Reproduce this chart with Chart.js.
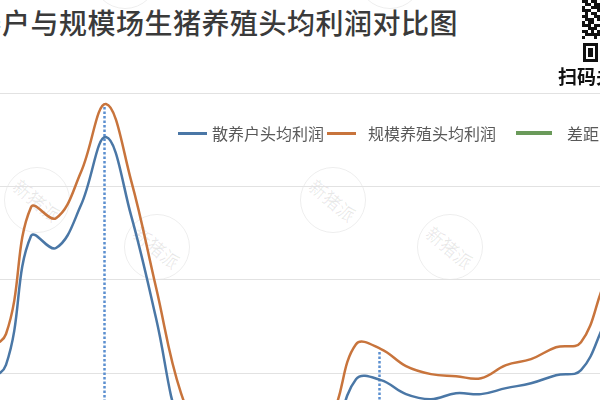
<!DOCTYPE html>
<html lang="zh-CN">
<head>
<meta charset="utf-8">
<script src="https://cdn.jsdelivr.net/npm/chart.js@4.4.1/dist/chart.umd.min.js"></script>
<style>
  html, body { margin: 0; padding: 0; }
  body {
    width: 600px; height: 400px; overflow: hidden; position: relative;
    background: #fff; font-family: "Noto Sans CJK SC", "Noto Sans", sans-serif;
  }
  #titulo {
    position: absolute; left: -55px; top: 7px; white-space: nowrap;
    font-size: 28px; line-height: 30px; letter-spacing: 0.5px;
    color: #3a3a3a; font-weight: 500;
  }
  #grafico-box { position: absolute; left: -19px; top: 93px; width: 650px; height: 467px; }
  #legenda {
    position: absolute; top: 123px; left: 178px; display: flex; align-items: center;
    white-space: nowrap; font-size: 16px; line-height: 20px; color: #595959;
  }
  #legenda .item { display: flex; align-items: center; }
  #legenda .amostra { display: inline-block; width: 29px; height: 3px; margin-right: 5px; }
  #legenda .item:nth-child(2) { margin-left: 3px; }
  #legenda .item:nth-child(2) .amostra { margin-right: 12px; }
  #legenda .item:nth-child(3) { margin-left: 20px; }
  #legenda .item:nth-child(3) .amostra { width: 36px; height: 4px; margin-right: 15px; }
  #qr { position: absolute; left: 574px; top: 0; }
  #scan {
    position: absolute; left: 558px; top: 66px; white-space: nowrap;
    font-size: 19px; line-height: 20px; font-weight: bold; color: #111;
  }
  .marca {
    position: absolute; width: 64px; height: 64px; margin: -33px 0 0 -33px;
    border: 1.5px solid rgba(0,0,0,0.07); border-radius: 50%;
    display: flex; align-items: center; justify-content: center;
  }
  .marca span {
    transform: rotate(40deg); font-size: 18px; color: rgba(0,0,0,0.09); white-space: nowrap;
  }
</style>
</head>
<body>
<div id="titulo">散养户与规模场生猪养殖头均利润对比图</div>
<canvas id="qr" width="26" height="64"></canvas>
<div id="scan">扫码关注</div>
<div id="marcas"></div>
<div id="grafico-box"><canvas id="grafico"></canvas></div>
<div id="legenda"></div>

<script>
  // meses (os rótulos do eixo x ficam fora do recorte)
  const meses = [
    '2020-08', '2020-09', '2020-10', '2020-11', '2020-12', '2021-01', '2021-02',
    '2021-03', '2021-04', '2021-05', '2021-06', '2021-07', '2021-08', '2021-09',
    '2021-10', '2021-11', '2021-12', '2022-01', '2022-02', '2022-03', '2022-04',
    '2022-05', '2022-06', '2022-07', '2022-08', '2022-09', '2022-10'
  ];
  const nomesSeries = ['散养户头均利润', '规模养殖头均利润', '差距'];
  const lucroSanyang = [
    -55, 45, 734, 670, 900, 1264, 846, 295, -316, -520, -600, -627, -600, -530,
    -386, -32, -37, -112, -139, -107, -112, -80, -54, -11, 16, 279, 498
  ];
  const lucroGuimo = [
    118, 210, 889, 830, 1077, 1441, 1034, 460, -107, -359, -439, -466, -439, -359,
    -241, 155, 129, 38, -5, -16, -27, 43, 75, 139, 166, 498, 712
  ];
  const diferenca = [
    173, 165, 155, 160, 177, 177, 188, 165, 209, 161, 161, 161, 161, 171,
    145, 187, 166, 150, 134, 91, 85, 123, 129, 150, 150, 219, 214
  ];
  const ticksY = [-1000, -500, 0, 500, 1000, 1500];
  const indicesGuia = [5, 16];
  const cores = ['#4a77a6', '#c8743c', '#6a9a5a'];

  // linhas pontilhadas verticais (desce da linha laranja até a base)
  const linhasGuia = {
    id: 'linhasGuia',
    beforeDatasetsDraw(chart) {
      const ctx = chart.ctx;
      const meta = chart.getDatasetMeta(1);
      const area = chart.chartArea;
      ctx.save();
      ctx.strokeStyle = '#5b8fd0';
      ctx.lineWidth = 2.5;
      ctx.setLineDash([2.5, 2]);
      indicesGuia.forEach(i => {
        const p = meta.data[i];
        const x = Math.round(p.x) - 1.5;
        ctx.beginPath();
        ctx.moveTo(x, p.y + 3);
        ctx.lineTo(x, area.bottom);
        ctx.stroke();
      });
      ctx.restore();
    }
  };

  const grafico = new Chart(document.getElementById('grafico').getContext('2d'), {
    type: 'line',
    data: {
      labels: meses,
      datasets: [
        { label: nomesSeries[0], data: lucroSanyang, borderColor: cores[0], borderWidth: 2.5, yAxisID: 'y' },
        { label: nomesSeries[1], data: lucroGuimo, borderColor: cores[1], borderWidth: 2.5, yAxisID: 'y' },
        { label: nomesSeries[2], data: diferenca, borderColor: cores[2], borderWidth: 3, yAxisID: 'y2' }
      ]
    },
    options: {
      responsive: true,
      maintainAspectRatio: false,
      animation: false,
      layout: { padding: 0, autoPadding: false },
      elements: { point: { radius: 0 }, line: { tension: 0.4, fill: false } },
      plugins: { legend: { display: false }, tooltip: { enabled: false }, title: { display: false } },
      scales: {
        x: { display: false, offset: false },
        y: {
          min: ticksY[0], max: ticksY[ticksY.length - 1],
          afterBuildTicks: s => { s.ticks = ticksY.map(v => ({ value: v })); },
          ticks: { display: false },
          grid: { color: '#e2e2e2', lineWidth: 1, drawTicks: false },
          border: { display: false }
        },
        y2: { display: false, min: 0, max: 1000 }
      }
    },
    plugins: [linhasGuia]
  });

  // legenda em HTML montada a partir dos datasets
  const legenda = document.getElementById('legenda');
  grafico.data.datasets.forEach(ds => {
    const item = document.createElement('div');
    item.className = 'item';
    item.innerHTML = `<span class="amostra" style="background:${ds.borderColor}"></span><span>${ds.label}</span>`;
    legenda.appendChild(item);
  });

  // marcas d'água
  const marcas = [[37, 200], [157, 247], [333, 200], [450, 247], [125, -24], [390, -24]];
  const caixaMarcas = document.getElementById('marcas');
  marcas.forEach(([x, y]) => {
    const m = document.createElement('div');
    m.className = 'marca';
    m.style.left = x + 'px';
    m.style.top = y + 'px';
    m.innerHTML = '<span>新猪派</span>';
    caixaMarcas.appendChild(m);
  });

  // pedaço do QR code
  const qr = document.getElementById('qr').getContext('2d');
  const padrao = [
    '00110110', '00011011', '00100111', '00111001', '00010110', '00110011',
    '00011101', '00101100', '00111011', '00001110', '00110101', '00011111', '00100010'
  ];
  qr.fillStyle = '#111';
  padrao.forEach((linha, r) => {
    [...linha].forEach((c, k) => { if (c === '1') qr.fillRect(2 + k * 3, r * 3, 3, 3); });
  });
  qr.fillRect(9, 43, 15, 19);
  qr.fillStyle = '#fff';
  qr.fillRect(12, 46, 9, 13);
  qr.fillStyle = '#111';
  qr.fillRect(14, 48, 5, 9);
</script>
</body>
</html>
